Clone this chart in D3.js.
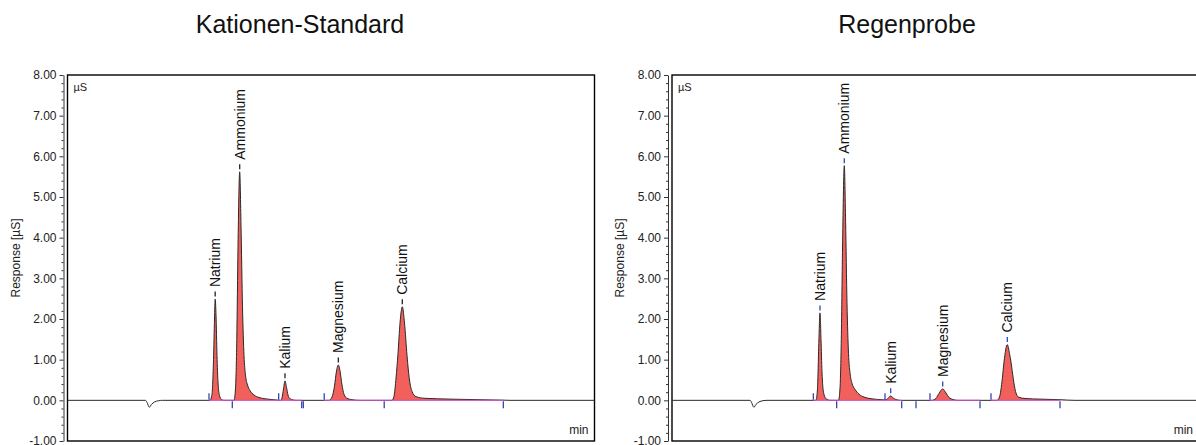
<!DOCTYPE html>
<html><head><meta charset="utf-8">
<script src="https://cdn.jsdelivr.net/npm/d3@7"></script>
<style>body{margin:0;background:#fff} svg{display:block} text{font-family:"Liberation Sans",Arial,Helvetica,sans-serif}</style>
</head><body><svg id="c" width="1196" height="445"></svg>
<script>
// ---------- data ----------
const panelTitles = ["Kationen-Standard", "Regenprobe"];
const peakNames = ["Natrium", "Ammonium", "Kalium", "Magnesium", "Calcium"];
const yTicks = [-1, 0, 1, 2, 3, 4, 5, 6, 7, 8];
const yDomain = [-1, 8];
const timeRange = [0, 16]; // min (no x tick labels shown)

// system (injection) dip, [time min, µS]
const dipTrace = [[2.368,0],[2.414,-0.05],[2.484,-0.17],[2.550,-0.10],[2.641,-0.04],[2.763,-0.01],[2.884,0]];

// Kationen-Standard peaks
const stdNatrium = [[4.326,0],[4.387,0.15],[4.433,1.0],[4.463,2.0],[4.484,2.49],[4.509,2.1],[4.539,1.1],[4.569,0.45],[4.615,0.12],[4.676,0.02],[4.751,0]];
const stdAmmonium = [[5.055,0],[5.101,0.3],[5.140,1.5],[5.177,3.8],[5.228,5.62],[5.268,4.3],[5.313,2.3],[5.359,1.1],[5.404,0.62],[5.465,0.38],[5.541,0.24],[5.662,0.13],[5.814,0.07],[6.027,0.035],[6.330,0.01],[6.452,0]];
const stdKalium = [[6.47,0],[6.512,0.06],[6.558,0.28],[6.603,0.48],[6.649,0.32],[6.695,0.13],[6.755,0.04],[6.846,0.01],[6.937,0]];
const stdMagnesium = [[7.939,0],[8.030,0.08],[8.106,0.35],[8.167,0.72],[8.222,0.87],[8.274,0.72],[8.334,0.38],[8.395,0.15],[8.486,0.05],[8.638,0.015],[8.881,0]];
const stdCalcium = [[9.852,0],[9.913,0.1],[9.974,0.55],[10.034,1.15],[10.095,1.9],[10.165,2.30],[10.232,1.9],[10.308,1.1],[10.383,0.5],[10.459,0.22],[10.581,0.09],[10.854,0.05],[11.613,0.03],[12.524,0.015],[13.222,0.005],[13.435,0]];
const stdEventTimes = [4.296, 5.003, 6.412, 7.111, 7.159, 7.794, 9.615, 13.231];
const stdEventSides = [1, -1, 1, -1, -1, 1, -1, -1];
const stdWindows = [[4.296,5.003],[5.003,6.412],[6.412,7.111],[7.794,9.615],[9.615,13.231]];

// Regenprobe peaks
const rainNatrium = [[4.372,0],[4.418,0.3],[4.457,1.4],[4.493,2.15],[4.524,1.5],[4.554,0.7],[4.600,0.2],[4.676,0.04],[4.797,0]];
const rainAmmonium = [[5.055,0],[5.101,0.3],[5.140,1.5],[5.180,3.9],[5.231,5.77],[5.271,4.4],[5.313,2.4],[5.359,1.15],[5.404,0.68],[5.465,0.42],[5.556,0.27],[5.678,0.15],[5.829,0.08],[6.042,0.04],[6.376,0.015]];
const rainKalium = [[6.467,0.01],[6.573,0.06],[6.640,0.11],[6.710,0.06],[6.801,0.02],[6.922,0]];
const rainMagnesium = [[7.894,0],[8.015,0.05],[8.106,0.17],[8.219,0.28],[8.319,0.18],[8.410,0.07],[8.531,0.02],[8.683,0]];
const rainCalcium = [[9.867,0],[9.943,0.08],[10.028,0.53],[10.080,0.94],[10.180,1.37],[10.247,1.15],[10.292,0.94],[10.362,0.53],[10.429,0.22],[10.520,0.08],[10.717,0.045],[11.173,0.03],[11.780,0.015],[12.235,0]];
const rainEventTimes = [4.290, 5.000, 6.467, 6.974, 7.408, 7.833, 9.351, 9.685, 11.780];
const rainEventSides = [1, -1, 1, -1, -1, 1, -1, 1, -1];
const rainWindows = [[4.290,5.000],[5.000,6.467],[6.467,6.974],[7.833,9.351],[9.685,11.780]];

// ---------- drawing ----------
const svg = d3.select("#c");
const panels = [
  {title: panelTitles[0], peaks: [stdNatrium, stdAmmonium, stdKalium, stdMagnesium, stdCalcium],
   evT: stdEventTimes, evS: stdEventSides, win: stdWindows, boxL: 67.5, axisX: 63.5, titleX: 300, dashColor: "#222"},
  {title: panelTitles[1], peaks: [rainNatrium, rainAmmonium, rainKalium, rainMagnesium, rainCalcium],
   evT: rainEventTimes, evS: rainEventSides, win: rainWindows, boxL: 672, axisX: 668, titleX: 907, dashColor: "#2b47b8"}
];
const boxW = 527, boxTop = 75, boxBot = 441;

panels.forEach(p => {
  const g = svg.append("g");
  const x = d3.scaleLinear().domain(timeRange).range([p.boxL, p.boxL + boxW]);
  const y = d3.scaleLinear().domain(yDomain).range([boxBot, boxTop]);

  // title
  g.append("text").attr("x", p.titleX).attr("y", 33).attr("text-anchor", "middle")
    .attr("font-size", 25).attr("fill", "#111").text(p.title);

  // frame
  g.append("rect").attr("x", p.boxL).attr("y", boxTop).attr("width", boxW).attr("height", boxBot - boxTop)
    .attr("fill", "none").attr("stroke", "#000").attr("stroke-width", 1.4);

  // y axis (separate from frame)
  const ax = g.append("g").attr("transform", `translate(${p.axisX},0)`);
  const minor = d3.range(-1, 8.0001, 0.2).filter(v => Math.abs(v - Math.round(v)) > 1e-6);
  ax.append("g").call(d3.axisLeft(y).tickValues(minor).tickSize(2).tickSizeOuter(0).tickFormat(""))
    .call(s => s.select(".domain").remove())
    .selectAll("line").attr("stroke", "#333");
  const major = ax.append("g").call(d3.axisLeft(y).tickValues(yTicks).tickSize(4).tickSizeOuter(0)
      .tickFormat(d => d.toFixed(2)).tickPadding(3));
  major.select(".domain").attr("stroke", "#333");
  major.selectAll("line").attr("stroke", "#333");
  major.selectAll("text").attr("font-size", 12).attr("fill", "#222")
    .style("font-family", '"Liberation Sans",Arial,sans-serif');

  // y title
  g.append("text").attr("transform", `translate(${p.axisX - 44},${(boxTop + boxBot) / 2}) rotate(-90)`)
    .attr("text-anchor", "middle").attr("font-size", 12).attr("fill", "#222").text("Response [µS]");

  // unit labels
  g.append("text").attr("x", p.boxL + 6).attr("y", 91).attr("font-size", 11).attr("fill", "#222").text("µS");
  g.append("text").attr("x", p.boxL + boxW - 6).attr("y", 434).attr("text-anchor", "end")
    .attr("font-size", 12).attr("fill", "#222").text("min");

  const curve = d3.curveMonotoneX;
  // fills
  const area = d3.area().curve(curve).x(d => x(d[0])).y0(y(0)).y1(d => y(Math.max(0, d[1])));
  p.peaks.forEach(pk => {
    g.append("path").datum(pk).attr("d", area).attr("fill", "#f1605b").attr("stroke", "none");
  });

  // full trace
  const trace = [[timeRange[0], 0]];
  [dipTrace, ...p.peaks].forEach(arr => arr.forEach(pt => {
    if (pt[0] > trace[trace.length - 1][0]) trace.push(pt);
  }));
  trace.push([timeRange[1], 0]);
  const line = d3.line().curve(curve).x(d => x(d[0])).y(d => y(d[1]));
  g.append("path").datum(trace).attr("d", line).attr("fill", "none")
    .attr("stroke", "#2a2a2a").attr("stroke-width", 1);

  // integration baselines
  g.selectAll(null).data(p.win).enter().append("line")
    .attr("x1", d => x(d[0])).attr("x2", d => x(d[1])).attr("y1", y(0)).attr("y2", y(0))
    .attr("stroke", "#d24bd0").attr("stroke-width", 1.3).attr("stroke-opacity", 0.85);

  // event markers
  g.selectAll(null).data(p.evT.map((t, i) => [t, p.evS[i]])).enter().append("line")
    .attr("x1", d => x(d[0])).attr("x2", d => x(d[0]))
    .attr("y1", d => d[1] > 0 ? y(0) - 7 : y(0) + 1)
    .attr("y2", d => d[1] > 0 ? y(0) - 0.5 : y(0) + 8)
    .attr("stroke", "#2436a8").attr("stroke-width", 1.2);

  // peak labels
  p.peaks.forEach((pk, i) => {
    const apex = pk.reduce((a, b) => b[1] > a[1] ? b : a);
    const ax0 = x(apex[0]), ay0 = y(apex[1]);
    g.append("line").attr("x1", ax0).attr("x2", ax0).attr("y1", ay0 - 2.5).attr("y2", ay0 - 7.5)
      .attr("stroke", p.dashColor).attr("stroke-width", 1.3);
    g.append("text").attr("transform", `translate(${ax0},${ay0 - 12}) rotate(-90)`)
      .attr("dy", "0.36em").attr("font-size", 14).attr("fill", "#111").text(peakNames[i]);
  });
});
</script></body></html>
